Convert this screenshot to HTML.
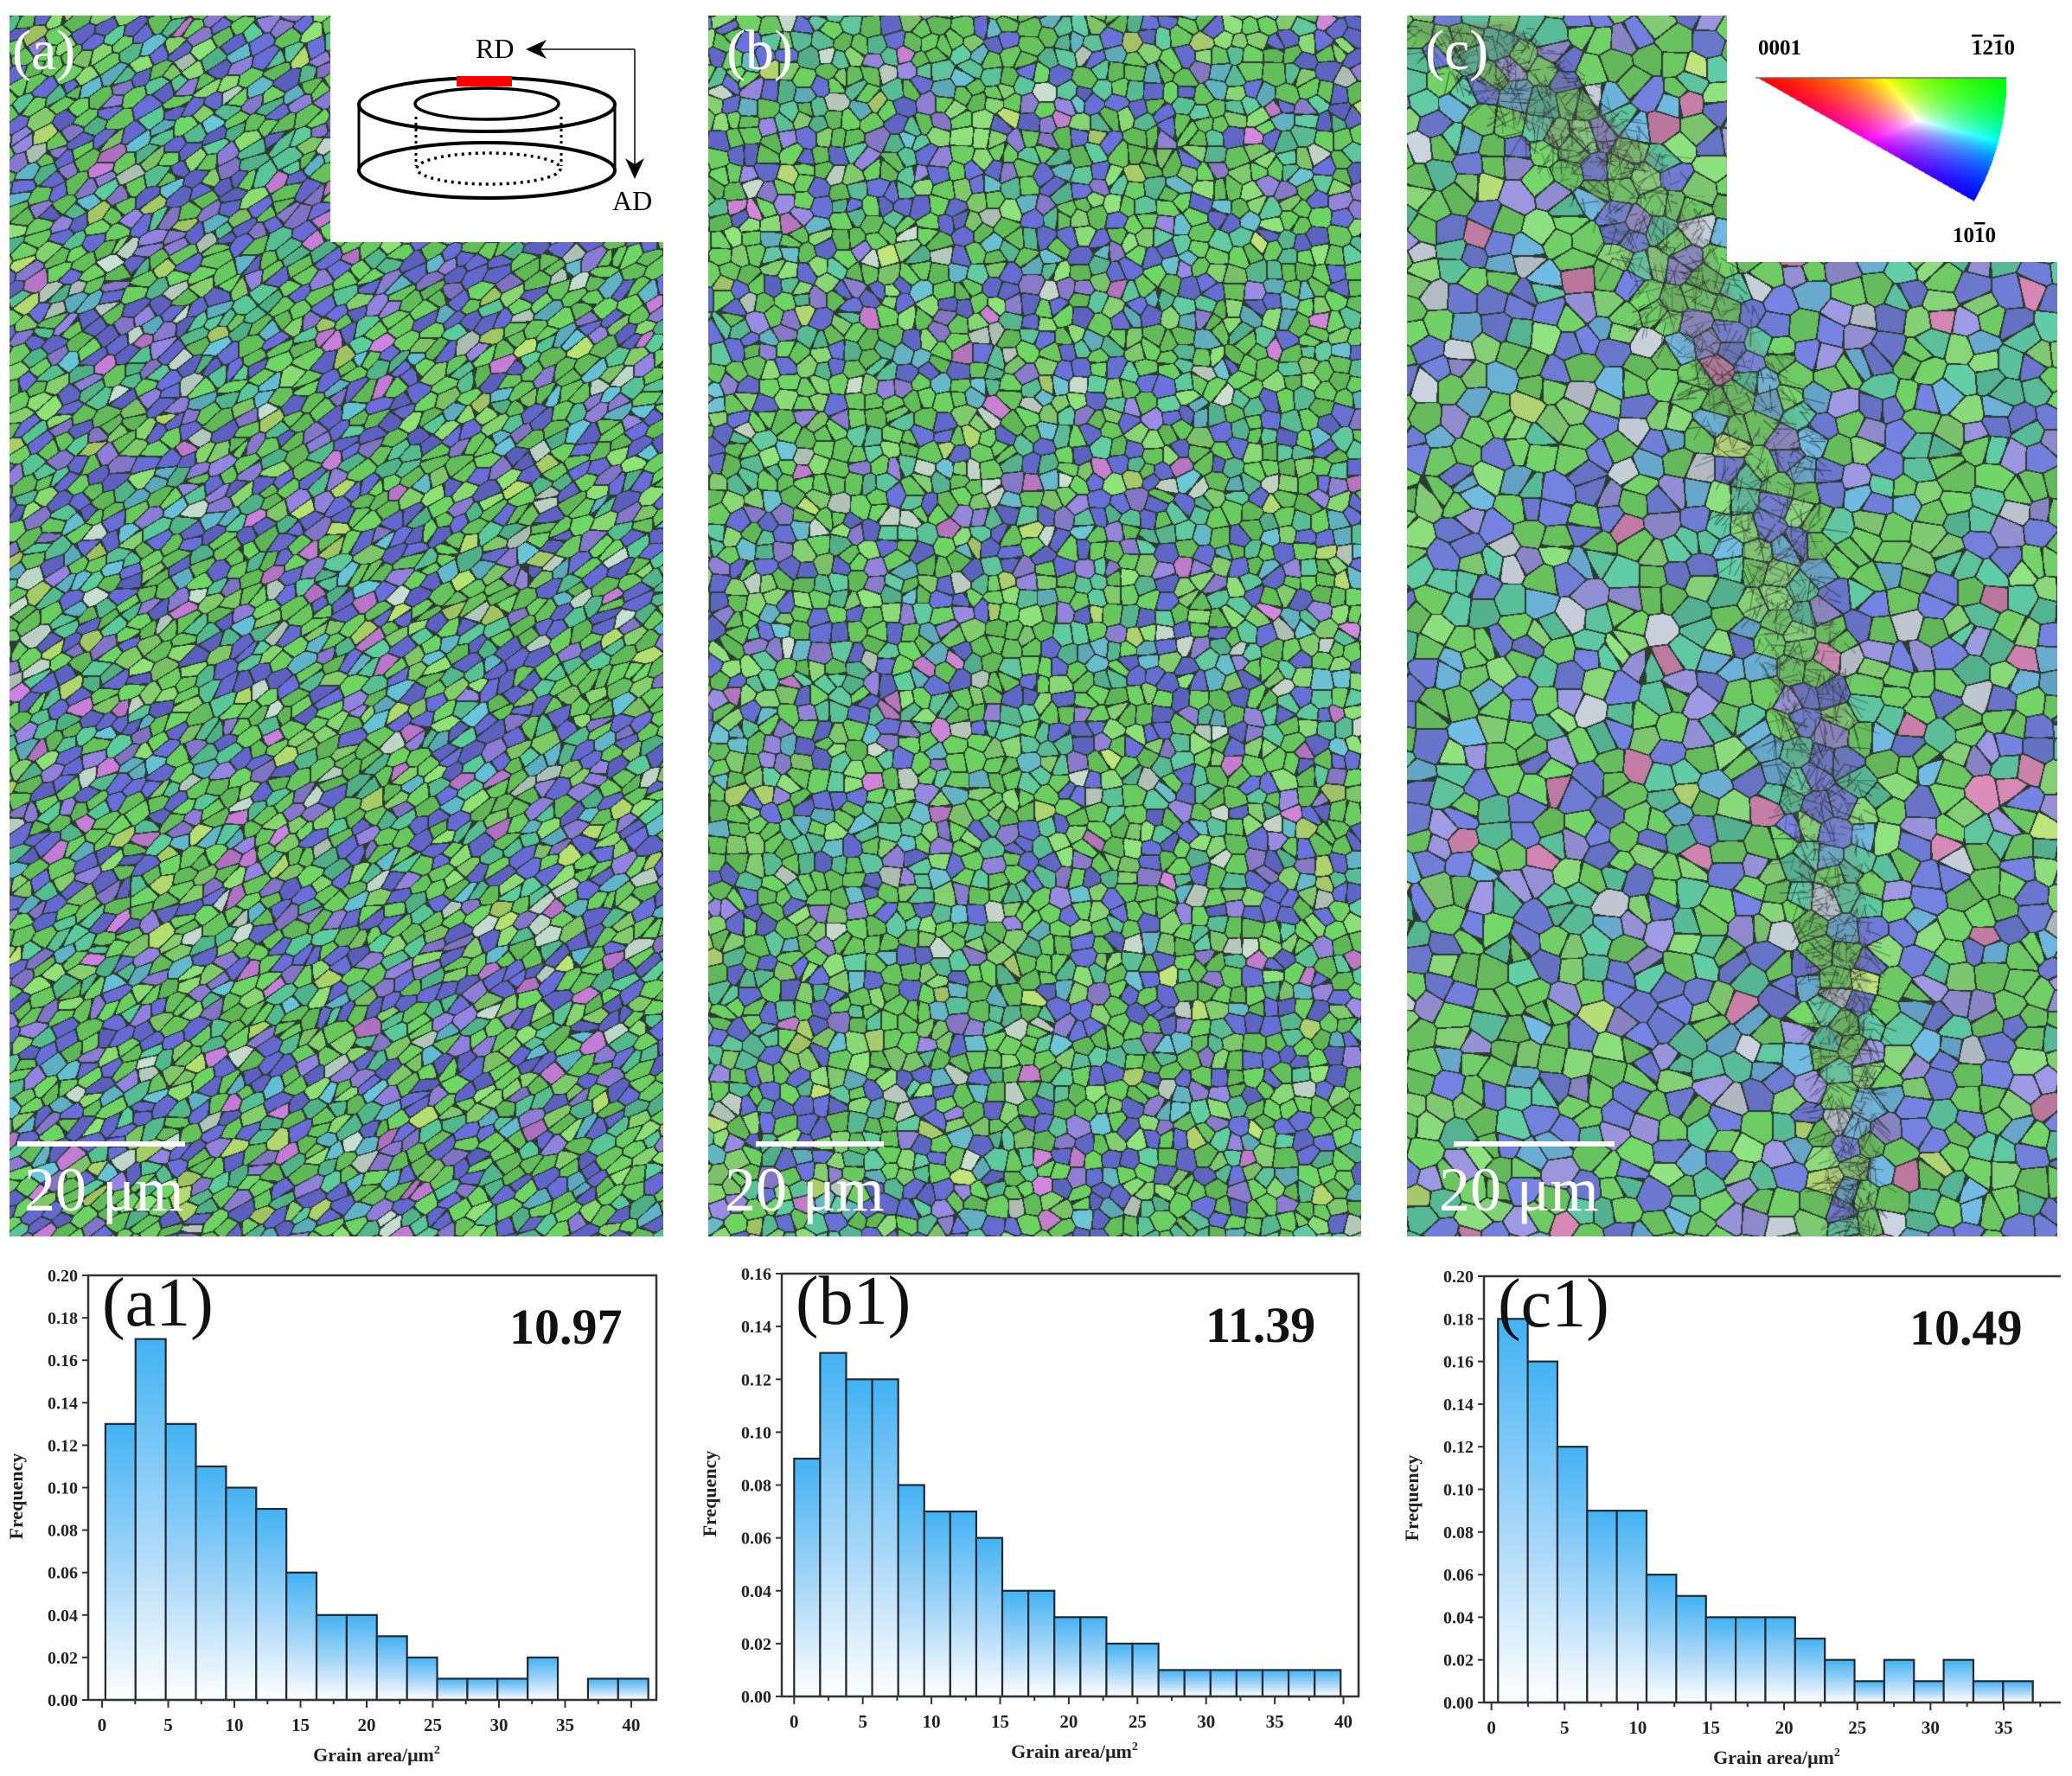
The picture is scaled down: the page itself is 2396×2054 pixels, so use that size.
<!DOCTYPE html>
<html><head><meta charset="utf-8">
<style>
html,body{margin:0;padding:0;background:#fff;}
#root{position:relative;width:2396px;height:2054px;overflow:hidden;background:#fff;font-family:"Liberation Serif",serif;}
canvas{position:absolute;display:block;}
.lbl{position:absolute;color:#fff;font-family:"Liberation Serif",serif;line-height:1;white-space:nowrap;}
.bar{position:absolute;background:#fff;height:6px;}
svg{position:absolute;left:0;top:0;}
</style></head>
<body>
<div id="root">
<canvas id="mapA" style="left:11px;top:18px;"></canvas>
<canvas id="mapB" style="left:819px;top:18px;"></canvas>
<canvas id="mapC" style="left:1627px;top:18px;"></canvas>

<div class="lbl" style="left:14px;top:26px;font-size:66px;">(a)</div>
<div class="lbl" style="left:840px;top:26px;font-size:66px;">(b)</div>
<div class="lbl" style="left:1648px;top:26px;font-size:66px;">(c)</div>

<div class="bar" style="left:20px;top:1320px;width:194px;"></div>
<div class="bar" style="left:874px;top:1320px;width:148px;"></div>
<div class="bar" style="left:1681px;top:1320px;width:186px;"></div>
<div class="lbl" style="left:28px;top:1340px;font-size:72px;">20 μm</div>
<div class="lbl" style="left:838px;top:1340px;font-size:72px;">20 μm</div>
<div class="lbl" style="left:1664px;top:1340px;font-size:72px;">20 μm</div>

<svg width="2396" height="2054" style="pointer-events:none">
  <g>
    <rect x="382" y="18" width="385" height="262" fill="#fff"/>
    <ellipse cx="563" cy="197" rx="148" ry="32" fill="none" stroke="#000" stroke-width="4"/>
    <line x1="415" y1="121" x2="415" y2="197" stroke="#000" stroke-width="3"/>
    <line x1="711" y1="121" x2="711" y2="197" stroke="#000" stroke-width="3"/>
    <ellipse cx="563" cy="121" rx="148" ry="31" fill="#fff" stroke="#000" stroke-width="4"/>
    <ellipse cx="563" cy="120" rx="83" ry="18" fill="none" stroke="#000" stroke-width="3.5"/>
    <line x1="481" y1="135" x2="481" y2="192" stroke="#000" stroke-width="3" stroke-dasharray="3,4"/>
    <line x1="649" y1="135" x2="649" y2="192" stroke="#000" stroke-width="3" stroke-dasharray="3,4"/>
    <ellipse cx="565" cy="195" rx="83" ry="18" fill="none" stroke="#000" stroke-width="3.5" stroke-dasharray="3,5"/>
    <rect x="528" y="88" width="64" height="12" fill="#f00"/>
    <text x="550" y="67" font-size="32" font-family="Liberation Serif, serif">RD</text>
    <polyline points="734,57 618,57" fill="none" stroke="#444" stroke-width="2"/>
    <polyline points="734,57 734,200" fill="none" stroke="#444" stroke-width="2"/>
    <polygon points="608,57 632,46 625,57 632,68" fill="#000"/>
    <polygon points="734,207 723,183 734,190 745,183" fill="#000"/>
    <text x="708" y="243" font-size="32" font-family="Liberation Serif, serif">AD</text>
  </g>
  <g>
    <rect x="1997" y="18" width="382" height="285" fill="#fff"/>
    <text x="2033" y="63" font-size="25" font-weight="bold" font-family="Liberation Serif, serif">0001</text>
    <text x="2280" y="63" font-size="25" font-weight="bold" font-family="Liberation Serif, serif"><tspan text-decoration="overline">1</tspan>2<tspan text-decoration="overline">1</tspan>0</text>
    <text x="2258" y="280" font-size="25" font-weight="bold" font-family="Liberation Serif, serif">10<tspan text-decoration="overline">1</tspan>0</text>
  </g>
</svg>
<canvas id="ipf" style="left:2030px;top:88px;"></canvas>

<svg id="hist" width="2396" height="2054"></svg>
</div>

<script>
// ===== Histogram data =====
const a1Values = [0.13,0.17,0.13,0.11,0.10,0.09,0.06,0.04,0.04,0.03,0.02,0.01,0.01,0.01,0.02,0.00,0.01,0.01];
const b1Values = [0.09,0.13,0.12,0.12,0.08,0.07,0.07,0.06,0.04,0.04,0.03,0.03,0.02,0.02,0.01,0.01,0.01,0.01,0.01,0.01,0.01];
const c1Values = [0.18,0.16,0.12,0.09,0.09,0.06,0.05,0.04,0.04,0.04,0.03,0.02,0.01,0.02,0.01,0.02,0.01,0.01];
const a1Bins = [0.25, 2.28];
const b1Bins = [0.0, 1.895];
const c1Bins = [0.45, 2.03];
const a1XTicks = [0,5,10,15,20,25,30,35,40];
const b1XTicks = [0,5,10,15,20,25,30,35,40];
const c1XTicks = [0,5,10,15,20,25,30,35];
const a1YTicks = ["0.00","0.02","0.04","0.06","0.08","0.10","0.12","0.14","0.16","0.18","0.20"];
const b1YTicks = ["0.00","0.02","0.04","0.06","0.08","0.10","0.12","0.14","0.16"];
const c1YTicks = ["0.00","0.02","0.04","0.06","0.08","0.10","0.12","0.14","0.16","0.18","0.20"];
const meanLabels = ["10.97","11.39","10.49"];
const panelLabels = ["(a1)","(b1)","(c1)"];

const NS = "http://www.w3.org/2000/svg";
const hist = document.getElementById('hist');
const defs = document.createElementNS(NS,'defs');
defs.innerHTML = '<linearGradient id="bgrad" x1="0" y1="0" x2="0" y2="1"><stop offset="0" stop-color="#43b2f3"/><stop offset="0.55" stop-color="#a9d8f8"/><stop offset="1" stop-color="#ffffff"/></linearGradient>';
hist.appendChild(defs);

function mk(tag, attrs, parent){
  const e = document.createElementNS(NS, tag);
  for (const k in attrs) e.setAttribute(k, attrs[k]);
  parent.appendChild(e);
  return e;
}

function drawHist(key, box, xdom, ymax, vals, bins, xt, yt, meanTxt, pLbl, meanX, rightBorder){
  const g = mk('g', {}, hist);
  
  
  const X = v => box.l + (v - xdom[0]) / (xdom[1] - xdom[0]) * (box.r - box.l);
  const Y = v => box.b - v / ymax * (box.b - box.t);
  vals.forEach((v, i) => {
    if (v <= 0) return;
    const x0 = X(bins[0] + i * bins[1]), x1 = X(bins[0] + (i + 1) * bins[1]);
    const r = mk('rect', {x: x0, y: Y(v), width: x1 - x0, height: Y(0) - Y(v), fill: 'url(#bgrad)', stroke: '#1f2a33', 'stroke-width': 2.2}, g);
    
    
  });
  const pathD = rightBorder
    ? `M${box.l},${box.t} H${box.r} V${box.b} H${box.l} Z`
    : `M${box.r},${box.t} H${box.l} V${box.b} H${box.r}`;
  const fr = mk('path', {d: pathD, fill: 'none', stroke: '#333', 'stroke-width': 2.5}, g);
  
  
  yt.forEach(t => {
    const v = parseFloat(t), y = Y(v);
    mk('line', {x1: box.l - 7, y1: y, x2: box.l, y2: y, stroke: '#333', 'stroke-width': 2}, g);
    const tx = mk('text', {x: box.l - 12, y: y + 7, 'text-anchor': 'end', 'font-size': 20, 'font-weight': 'bold', 'font-family': 'Liberation Serif, serif', fill: '#222'}, g);
    tx.textContent = t;
    
    
  });
  xt.forEach(t => {
    const x = X(t);
    mk('line', {x1: x, y1: box.b, x2: x, y2: box.b + 9, stroke: '#333', 'stroke-width': 2}, g);
    const xm = X(t + 2.5);
    if (xm < box.r - 2) mk('line', {x1: xm, y1: box.b, x2: xm, y2: box.b + 5, stroke: '#333', 'stroke-width': 2}, g);
    const tx = mk('text', {x: x, y: box.b + 36, 'text-anchor': 'middle', 'font-size': 21, 'font-weight': 'bold', 'font-family': 'Liberation Serif, serif', fill: '#222'}, g);
    tx.textContent = t;
    
    
  });
  const xtl = mk('text', {x: (box.l + box.r) / 2 + 5, y: box.b + 71, 'text-anchor': 'middle', 'font-size': 22, 'font-weight': 'bold', 'font-family': 'Liberation Serif, serif', fill: '#222'}, g);
  xtl.innerHTML = 'Grain area/μm<tspan dy="-9" font-size="14">2</tspan>';
  
  
  const cy = (box.t + box.b) / 2 + 10;
  const ytl = mk('text', {x: box.l - 76, y: cy, transform: `rotate(-90 ${box.l - 76} ${cy})`, 'text-anchor': 'middle', 'font-size': 22, 'font-weight': 'bold', 'font-family': 'Liberation Serif, serif', fill: '#222'}, g);
  ytl.textContent = 'Frequency';
  
  
  const pl = mk('text', {x: box.l + 16, y: box.t + 58, 'font-size': 80, 'font-family': 'Liberation Serif, serif', fill: '#111'}, g);
  pl.textContent = pLbl;
  
  
  const ml = mk('text', {x: meanX, y: box.t + 79, 'font-size': 58, 'font-weight': 'bold', 'font-family': 'Liberation Serif, serif', fill: '#111'}, g);
  ml.textContent = meanTxt;
  
  
}

drawHist('a1', {l:102, r:759, t:1475, b:1966}, [-1.05, 41.9], 0.20, a1Values, a1Bins, a1XTicks, a1YTicks, meanLabels[0], panelLabels[0], 589, true);
drawHist('b1', {l:904, r:1571, t:1473, b:1962}, [-0.9, 41.1], 0.16, b1Values, b1Bins, b1XTicks, b1YTicks, meanLabels[1], panelLabels[1], 1394, true);
drawHist('c1', {l:1716, r:2383, t:1476, b:1969}, [-0.51, 38.9], 0.20, c1Values, c1Bins, c1XTicks, c1YTicks, meanLabels[2], panelLabels[2], 2208, false);

// ===== EBSD grain maps (procedural texture) =====
function rng(seed){ return function(){ seed = (seed * 1664525 + 1013904223) >>> 0; return seed / 4294967296; }; }
function pick(pal, r){ let s = 0; for (const p of pal) s += p[3]; let t = r * s; for (const p of pal){ t -= p[3]; if (t <= 0) return p; } return pal[pal.length-1]; }

function drawMap(id, w, h, ax, by, ang, pal, seed, edge){
  const cv = document.getElementById(id); cv.width = w; cv.height = h;
  const ctx = cv.getContext('2d'); const img = ctx.createImageData(w, h); const d = img.data;
  const R = rng(seed);
  const c = Math.cos(ang), s = Math.sin(ang);
  const tu = (x,y) => (c*x + s*y) / ax, tv = (x,y) => (-s*x + c*y) / by;
  const cs = [[0,0],[w,0],[0,h],[w,h]];
  let mu = 1e9, Mu = -1e9, mv = 1e9, Mv = -1e9;
  cs.forEach(p => { const u = tu(p[0],p[1]), v = tv(p[0],p[1]); mu = Math.min(mu,u); Mu = Math.max(Mu,u); mv = Math.min(mv,v); Mv = Math.max(Mv,v); });
  const i0 = Math.floor(mu) - 2, j0 = Math.floor(mv) - 2;
  const nu = Math.ceil(Mu) - i0 + 3, nv = Math.ceil(Mv) - j0 + 3;
  const SU = new Float32Array(nu*nv), SV = new Float32Array(nu*nv), CR = new Uint8Array(nu*nv*3);
  for (let j = 0; j < nv; j++) for (let i = 0; i < nu; i++){
    const k = j*nu + i;
    SU[k] = i0 + i + 0.1 + 0.8*R(); SV[k] = j0 + j + 0.1 + 0.8*R();
    const p = pick(pal, R()); const br = 0.95 + 0.18*R();
    const g = (p[0]+p[1]+p[2])/3;
    const m = 0.88;
    CR[k*3] = Math.min(255, (p[0]*m + g*(1-m))*br);
    CR[k*3+1] = Math.min(255, (p[1]*m + g*(1-m))*br);
    CR[k*3+2] = Math.min(255, (p[2]*m + g*(1-m))*br);
  }
  for (let y = 0; y < h; y++) for (let x = 0; x < w; x++){
    const u = tu(x,y), v = tv(x,y);
    const ci = Math.floor(u) - i0, cj = Math.floor(v) - j0;
    let d1 = 1e9, d2 = 1e9, kb = 0;
    for (let jj = cj-1; jj <= cj+1; jj++) for (let ii = ci-1; ii <= ci+1; ii++){
      const k = jj*nu + ii; const du = u - SU[k], dv = v - SV[k]; const dd = du*du + dv*dv;
      if (dd < d1){ d2 = d1; d1 = dd; kb = k; } else if (dd < d2) d2 = dd;
    }
    const o = (y*w + x)*4;
    if (Math.sqrt(d2) - Math.sqrt(d1) < edge){ d[o] = 45; d[o+1] = 60; d[o+2] = 50; }
    else { d[o] = CR[kb*3]; d[o+1] = CR[kb*3+1]; d[o+2] = CR[kb*3+2]; }
    d[o+3] = 255;
  }
  ctx.putImageData(img, 0, 0);
  return ctx;
}

const palA = [[95,200,85,30],[125,210,100,10],[75,190,140,14],[85,180,200,6],[90,95,205,22],[130,115,210,9],[185,110,205,3],[175,200,185,3],[165,210,95,3]];
const palB = [[95,200,85,34],[125,210,105,12],[80,190,145,16],[90,180,195,6],[90,100,205,18],[135,120,210,7],[190,115,200,2],[180,200,185,3],[170,210,100,2]];
const palC = [[100,200,90,30],[125,210,110,12],[80,190,150,14],[95,170,210,9],[100,115,210,20],[140,135,210,8],[200,120,165,3],[180,190,200,3],[170,210,105,1]];

drawMap('mapA', 756, 1412, 26, 14, -0.6, palA, 12345, 0.085);
drawMap('mapB', 755, 1412, 20, 19, 0.0, palB, 777, 0.08);
const ctxC = drawMap('mapC', 752, 1412, 30, 27, 0.2, palC, 4242, 0.06);

// deformation streak in map c
(function(){
  const R = rng(99);
  const path = [[60,10],[250,180],[400,450],[470,800],[500,1100],[520,1412]];
  const at = t => { const n = path.length - 1; const f = Math.min(n - 1e-6, t*n); const i = Math.floor(f), r = f - i;
    return [path[i][0] + (path[i+1][0]-path[i][0])*r, path[i][1] + (path[i+1][1]-path[i][1])*r]; };
  ctxC.fillStyle = 'rgba(120,125,120,0.18)';
  for (let t = 0; t < 1; t += 0.004){ const p = at(t); const wd = 50 + 70*(1-t); ctxC.fillRect(p[0]-wd/2, p[1]-3, wd, 6); }
  ctxC.lineWidth = 1.2;
  for (let k = 0; k < 1800; k++){
    const t = R(); const p = at(t); const wd = 60 + 110*(1-t);
    const x = p[0] + (R()-0.5)*wd, y = p[1];
    const a = R()*Math.PI; const L = 8 + R()*25;
    ctxC.strokeStyle = 'rgba(40,40,40,' + (0.3 + 0.35*R()) + ')';
    ctxC.beginPath(); ctxC.moveTo(x, y); ctxC.lineTo(x + Math.cos(a)*L, y + Math.sin(a)*L); ctxC.stroke();
  }
})();

// IPF color triangle
(function(){
  const cv = document.getElementById('ipf'); const W = 295, H = 150; cv.width = W; cv.height = H;
  const ctx = cv.getContext('2d'); const img = ctx.createImageData(W, H); const d = img.data;
  const ax = 3, ay = 2; const Rm = 287; const amax = Math.atan2(142, 249);
  for (let y = 0; y < H; y++) for (let x = 0; x < W; x++){
    const dx = x - ax, dy = y - ay; const r = Math.sqrt(dx*dx + dy*dy); const a = Math.atan2(dy, dx);
    const o = (y*W + x)*4;
    if (a < 0 || a > amax || r > Rm || dx < 0){ d[o+3] = 0; continue; }
    const t = a / amax, q = r / Rm;
    let R = 1 - q, G = q*(1 - t), B = q*t;
    const m = Math.max(R, G, B) || 1; R /= m; G /= m; B /= m;
    d[o] = R*255; d[o+1] = G*255; d[o+2] = B*255; d[o+3] = 255;
  }
  ctx.putImageData(img, 0, 0);
  ctx.strokeStyle = '#666'; ctx.lineWidth = 1.5; ctx.beginPath(); ctx.moveTo(0, 2); ctx.lineTo(290, 2); ctx.stroke();
})();
</script>
</body></html>
